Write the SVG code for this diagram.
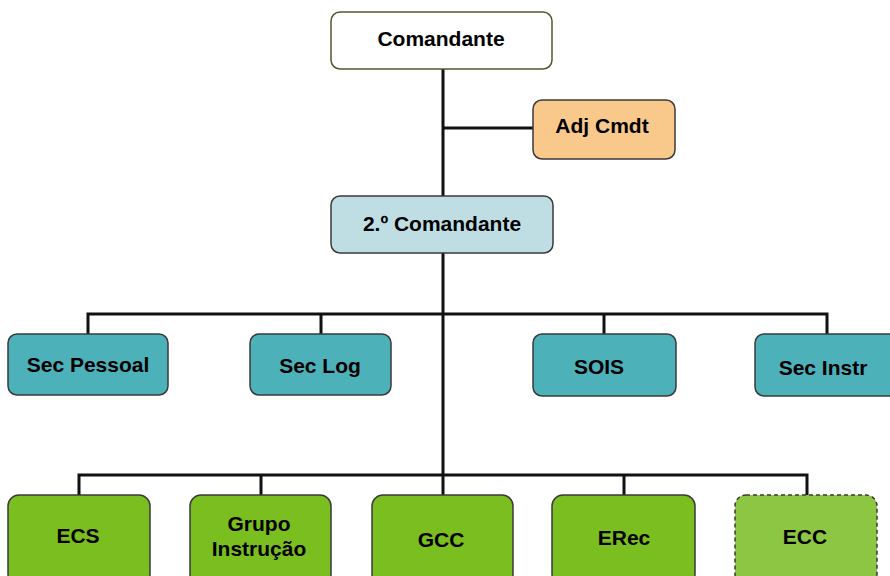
<svg xmlns="http://www.w3.org/2000/svg" width="890" height="576" viewBox="0 0 890 576">
<defs>
<style>
.box{stroke:#3a3a3a;stroke-width:1.5}
.wht{fill:#ffffff;stroke:#555533}
.org{fill:#F8C98A}
.blu{fill:#BFDEE3}
.tel{fill:#4DB1B9}
.grn{fill:#7BBE1F}
.lgr{fill:#8DC642;stroke-dasharray:4 3}
.lbl{font-family:"Liberation Sans",Arial,sans-serif;font-weight:bold;font-size:21px;fill:#000;text-anchor:middle}
.ln{stroke:#111;stroke-width:3;fill:none}
</style>
</defs>
<g id="connectors">
<path class="ln" d="M443 69 V475"/>
<path class="ln" d="M443 128 H533"/>
<path class="ln" d="M88 334 V314 H827 V334"/>
<path class="ln" d="M321 314 V334"/>
<path class="ln" d="M604 314 V334"/>
<path class="ln" d="M79 495 V475 H807 V495"/>
<path class="ln" d="M261 475 V495"/>
<path class="ln" d="M624 475 V495"/>
<path class="ln" d="M443 475 V495"/>
</g>
<g id="comandante"><rect class="box wht" x="331" y="12" width="221" height="57" rx="9"/><text class="lbl" x="441" y="46">Comandante</text></g>
<g id="adj-cmdt"><rect class="box org" x="533" y="100" width="142" height="59" rx="9"/><text class="lbl" x="602" y="133">Adj Cmdt</text></g>
<g id="segundo-comandante"><rect class="box blu" x="331" y="196" width="222" height="57" rx="9"/><text class="lbl" x="442" y="231">2.º Comandante</text></g>
<g id="sec-pessoal"><rect class="box tel" x="8" y="334" width="160" height="61" rx="9"/><text class="lbl" x="88" y="372">Sec Pessoal</text></g>
<g id="sec-log"><rect class="box tel" x="250" y="334" width="141" height="61" rx="9"/><text class="lbl" x="320" y="373">Sec Log</text></g>
<g id="sois"><rect class="box tel" x="533" y="334" width="143" height="62" rx="9"/><text class="lbl" x="599" y="374">SOIS</text></g>
<g id="sec-instr"><rect class="box tel" x="755" y="334" width="145" height="62" rx="9"/><text class="lbl" x="823" y="375">Sec Instr</text></g>
<g id="ecs"><rect class="box grn" x="8" y="495" width="142" height="90" rx="11"/><text class="lbl" x="78" y="543">ECS</text></g>
<g id="grupo-instrucao"><rect class="box grn" x="190" y="495" width="141" height="90" rx="11"/><text class="lbl" x="259" y="531">Grupo</text><text class="lbl" x="259" y="556">Instrução</text></g>
<g id="gcc"><rect class="box grn" x="372" y="495" width="141" height="90" rx="11"/><text class="lbl" x="441" y="547">GCC</text></g>
<g id="erec"><rect class="box grn" x="552" y="495" width="143" height="90" rx="11"/><text class="lbl" x="624" y="545">ERec</text></g>
<g id="ecc"><rect class="box lgr" x="735" y="495" width="142" height="90" rx="11"/><text class="lbl" x="805" y="544">ECC</text></g>
</svg>
